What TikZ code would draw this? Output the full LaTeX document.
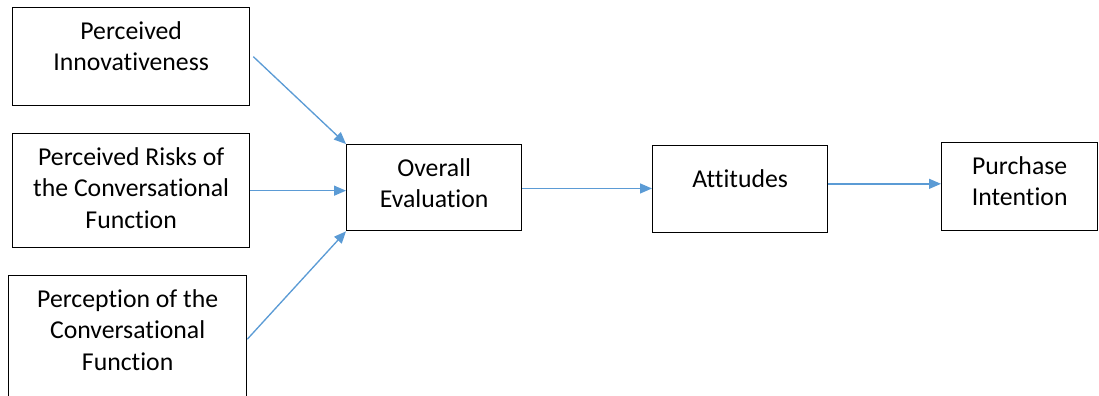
\documentclass[tikz,border=0pt]{standalone}
\usepackage{fontspec}
\setmainfont{Carlito}[Ligatures=NoCommon]
\usetikzlibrary{arrows.meta}
\definecolor{arrowblue}{HTML}{5B9BD5}

\begin{document}
\begin{tikzpicture}[
    x=0.75pt, y=-0.75pt,
    factor/.style={rectangle, draw, line width=1pt, anchor=north west, inner sep=0pt},
    boxtext/.style={anchor=north, align=center, inner sep=0pt, yshift=-10.5pt, font=\fontsize{19.3}{23.6}\selectfont},
    arrow/.style={draw=arrowblue, line width=1pt, -{Triangle[length=9pt, width=7.5pt]}}
]
\useasboundingbox (0,0) rectangle (1099,396);
\clip (0,0) rectangle (1099,396);

% Nodes
\node (innov) [factor, minimum width=177.75pt, minimum height=73.5pt, label={[boxtext]north:{Perceived\\Innovativeness}}] at (12,7) {};
\node (risks) [factor, minimum width=177.75pt, minimum height=85.5pt, label={[boxtext]north:{Perceived Risks of\\the Conversational\\Function}}] at (12,133) {};
\node (percep) [factor, minimum width=178.5pt, minimum height=95.25pt, label={[boxtext]north:{Perception of the\\Conversational\\Function}}] at (8,275) {};
\node (overall) [factor, minimum width=131.25pt, minimum height=64.5pt, label={[boxtext]north:{Overall\\Evaluation}}] at (346,144) {};
\node (attit) [factor, minimum width=131.25pt, minimum height=65.25pt, label={[boxtext, yshift=-8pt]north:{Attitudes}}] at (652,145) {};
\node (purch) [factor, minimum width=117pt, minimum height=66pt, label={[boxtext]north:{Purchase\\Intention}}] at (941,142) {};

% Connections
\draw [arrow] ([xshift=2.25pt]innov.east) -- (overall.north west);
\draw [arrow] (risks.east) -- (risks.east -| overall.west);
\draw [arrow] (percep.east) -- (overall.south west);
\draw [arrow] ([yshift=-0.6pt]overall.east) -- ([yshift=-0.6pt]overall.east -| attit.west);
\draw [arrow] ([yshift=4pt]attit.east) -- ([yshift=4pt]attit.east -| purch.west);

\end{tikzpicture}
\end{document}
